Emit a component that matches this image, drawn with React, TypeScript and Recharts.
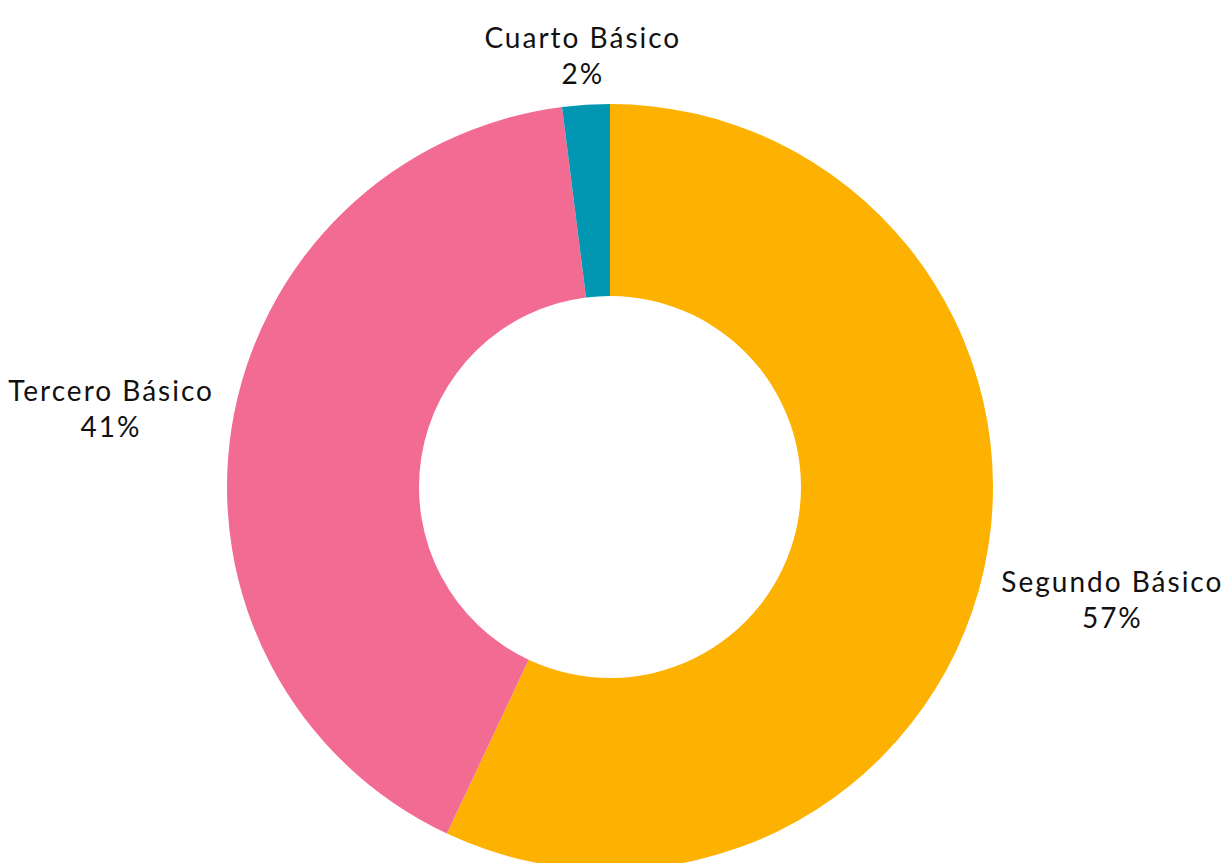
import React from "react";
import { PieChart, Pie, Cell } from "recharts";

const categories = ["Segundo Básico", "Tercero Básico", "Cuarto Básico"];
const values = [57, 41, 2];
const colors = ["#FDB100", "#F26B93", "#0197B2"];

const data = categories.map((name, i) => ({ name, value: values[i] }));

const FONT = "Lato, 'Noto Sans', sans-serif";
const FONT_SIZE = 28;
const LETTER_SPACING = 2;

let canvasCtx: CanvasRenderingContext2D | null = null;
function measure(text: string): number {
  if (typeof document !== "undefined") {
    if (!canvasCtx) {
      const c = document.createElement("canvas");
      canvasCtx = c.getContext("2d");
    }
    if (canvasCtx) {
      canvasCtx.font = `${FONT_SIZE}px ${FONT}`;
      return canvasCtx.measureText(text).width + LETTER_SPACING * text.length;
    }
  }
  return text.length * FONT_SIZE * 0.55;
}

const renderLabel = (props: any) => {
  const { cx, cy, midAngle, outerRadius, name, percent } = props;
  const rad = (-midAngle * Math.PI) / 180;
  const dx = Math.cos(rad);
  const dy = Math.sin(rad);
  const halfW = measure(name) / 2;
  const halfH = 32;
  const tx = Math.abs(dx) > 1e-6 ? halfW / Math.abs(dx) : Infinity;
  const ty = Math.abs(dy) > 1e-6 ? halfH / Math.abs(dy) : Infinity;
  const t = Math.min(tx, ty);
  const r = outerRadius + 18 + t;
  const x = cx + r * dx;
  const y = cy + r * dy;
  return (
    <text
      x={x}
      y={y}
      textAnchor="middle"
      fill="#111"
      style={{ fontFamily: FONT, fontSize: FONT_SIZE, letterSpacing: LETTER_SPACING }}
    >
      <tspan x={x} y={y - 18} dominantBaseline="central">
        {name}
      </tspan>
      <tspan x={x} y={y + 18} dominantBaseline="central">
        {`${Math.round(percent * 100)}%`}
      </tspan>
    </text>
  );
};

export default function App() {
  return (
    <div style={{ position: "absolute", left: 0, top: 0, width: 1232, height: 863, background: "#fff" }}>
      <PieChart width={1232} height={863} margin={{ top: 0, right: 0, bottom: 0, left: 0 }}>
        <Pie
          data={data}
          dataKey="value"
          nameKey="name"
          cx={610}
          cy={487}
          innerRadius={191}
          outerRadius={383}
          startAngle={90}
          endAngle={-270}
          stroke="none"
          labelLine={false}
          label={renderLabel}
          isAnimationActive={false}
        >
          {data.map((d, i) => (
            <Cell key={d.name} fill={colors[i]} />
          ))}
        </Pie>
      </PieChart>
    </div>
  );
}
